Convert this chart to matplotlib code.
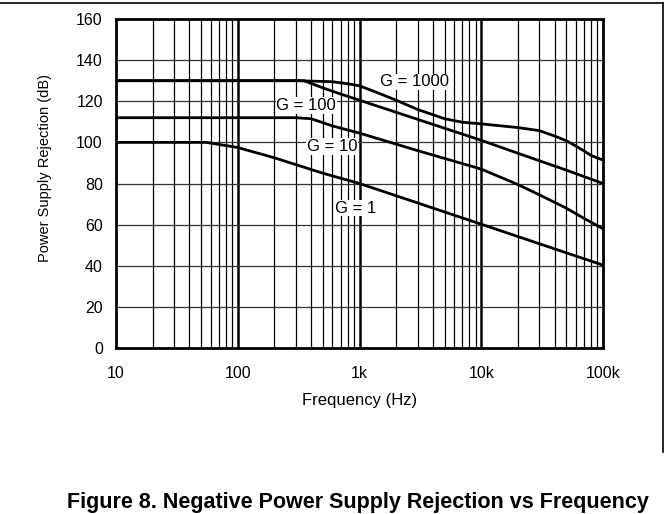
import matplotlib
matplotlib.use("Agg")
import matplotlib.pyplot as plt
import matplotlib.ticker as mtick
from matplotlib.lines import Line2D

plt.rcParams['font.family'] = ['Liberation Sans', 'DejaVu Sans']

# curves (Hz, dB)
f_g1 = [10, 55, 100, 200, 500, 1000, 10000, 100000]
psr_g1 = [100, 100, 97.5, 92.5, 85, 80, 60.2, 40.3]

f_g10 = [10, 300, 400, 600, 1000, 3000, 10000, 20000, 30000, 50000, 70000, 100000]
psr_g10 = [112, 112, 111.5, 108, 104.5, 96, 87, 79.5, 74.5, 68, 63, 58]

f_g100 = [10, 350, 500, 700, 1000, 10000, 20000, 50000, 100000]
psr_g100 = [130, 130, 126.5, 123.5, 120.5, 101, 94.7, 86.5, 80]

f_g1000 = [10, 300, 600, 800, 1000, 1500, 2000, 3000, 5000, 7000,
           10000, 20000, 30000, 40000, 50000, 60000, 70000, 80000, 100000]
psr_g1000 = [130, 130, 129.5, 128.5, 127.5, 123.5, 120.5, 116, 111.5, 109.8,
             109, 107.2, 105.7, 103.1, 100.8, 98.2, 95.8, 93.6, 91.4]

labels = ['G = 1', 'G = 10', 'G = 100', 'G = 1000']
label_pos = [(935, 68), (594, 98), (364, 118), (2806, 129.5)]

xticks = [10, 100, 1000, 10000, 100000]
xticklabels = ['10', '100', '1k', '10k', '100k']
yticks = [0, 20, 40, 60, 80, 100, 120, 140, 160]

fig = plt.figure(figsize=(6.69, 5.14), dpi=100)
ax = fig.add_axes([116 / 669, 166 / 514, 487 / 669, 329 / 514])

ax.set_xscale('log')
ax.set_xlim(10, 100000)
ax.set_ylim(0, 160)

# grid: thin minor lines, thick decade lines
for dec in [10, 100, 1000, 10000]:
    for m in range(2, 10):
        ax.axvline(dec * m, color='black', lw=0.9, zorder=1)
for dec in [100, 1000, 10000]:
    ax.axvline(dec, color='black', lw=1.8, zorder=1)
for y in yticks[1:-1]:
    ax.axhline(y, color='#333333', lw=0.9, zorder=1)

for f, v in [(f_g1, psr_g1), (f_g10, psr_g10), (f_g100, psr_g100), (f_g1000, psr_g1000)]:
    ax.plot(f, v, color='black', lw=2, zorder=3, solid_capstyle='butt')

for txt, (x, y) in zip(labels, label_pos):
    ax.text(x, y, txt, ha='center', va='center', fontsize=12, zorder=4,
            bbox=dict(facecolor='white', edgecolor='none', pad=0.5))

ax.set_xticks(xticks)
ax.set_xticklabels(xticklabels)
ax.xaxis.set_minor_locator(mtick.NullLocator())
ax.set_yticks(yticks)
ax.tick_params(length=0, labelsize=11.5)
ax.tick_params(axis='x', pad=13)
ax.tick_params(axis='y', pad=9.5)
for s in ax.spines.values():
    s.set_linewidth(2)
    s.set_zorder(5)

ax.set_xlabel('Frequency (Hz)', fontsize=12, va='center')
ax.xaxis.set_label_coords(0.5, (348 - 401) / 329)
ax.set_ylabel('Power Supply Rejection (dB)', fontsize=10.5, va='center')
ax.yaxis.set_label_coords((45 - 116) / 487, (348 - 168) / 329)

# frame lines of the page
fig.add_artist(Line2D([0, 663 / 669], [1 - 3 / 514, 1 - 3 / 514], color='black', lw=1.2))
fig.add_artist(Line2D([663 / 669, 663 / 669], [1 - 3 / 514, 1 - 452 / 514], color='black', lw=1.2))

fig.text(358 / 669, 6 / 514, 'Figure 8. Negative Power Supply Rejection vs Frequency',
         ha='center', va='baseline', fontsize=15.5, fontweight='bold')

plt.savefig('out.png', dpi=100)
plt.close()
